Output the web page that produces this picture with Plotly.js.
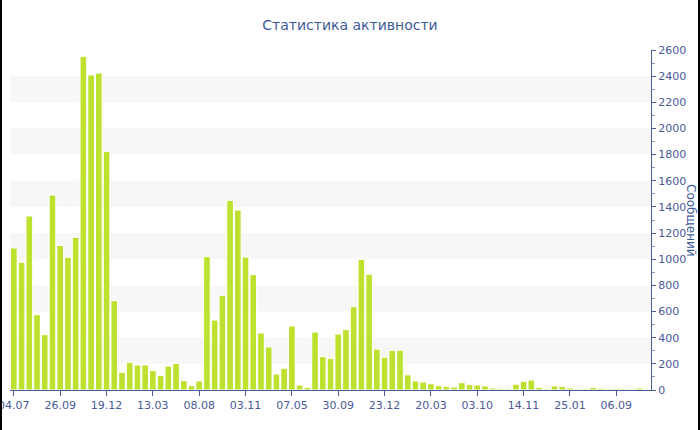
<!DOCTYPE html>
<html>
<head>
<meta charset="utf-8">
<script src="https://cdn.plot.ly/plotly-3.0.1.min.js"></script>
<style>
html,body{margin:0;padding:0;background:#fff;}
#wrap{position:relative;width:700px;height:430px;}
#chart{width:700px;height:430px;}
#frame{position:absolute;left:0;top:0;width:696px;height:430px;border-left:2px solid #000;border-right:2px solid #000;pointer-events:none;}
</style>
</head>
<body>
<div id="wrap"><div id="chart"></div><div id="frame"></div></div>
<script>
// Message counts per period
const messages = [
  1086, 976, 1331, 576, 423, 1491, 1106, 1015, 1168, 2552,
  2409, 2424, 1825, 683, 135, 212, 191, 191, 148, 112,
  183, 204, 71, 33, 69, 1020, 535, 724, 1450, 1376,
  1017, 882, 436, 329, 122, 166, 489, 38, 20, 443,
  255, 242, 428, 461, 637, 999, 885, 313, 250, 303,
  305, 116, 69, 61, 48, 33, 28, 23, 56, 41,
  38, 31, 15, 10, 8, 44, 67, 76, 20, 8,
  31, 28, 15, 8, 8, 20, 13, 8, 10, 8,
  8, 15, 6
];
// Positions (bar indices) of the labelled x ticks and their labels
const tickIndex = [0, 6, 12, 18, 24, 30, 36, 42, 48, 54, 60, 66, 72, 78];
const tickLabels = ['04.07', '26.09', '19.12', '13.03', '08.08', '03.11', '07.05',
                    '30.09', '23.12', '20.03', '03.10', '14.11', '25.01', '06.09'];
const yTicks = [0, 200, 400, 600, 800, 1000, 1200, 1400, 1600, 1800, 2000, 2200, 2400, 2600];

const idx = messages.map((_, i) => i);
const axisColor = '#4a5c9c';
const textColor = '#4a5a96';

// alternate bands between grid lines
const shapes = [];
for (let k = 1; k < yTicks.length - 1; k += 2) {
  shapes.push({type: 'rect', xref: 'paper', yref: 'y', x0: 0, x1: 1,
    y0: yTicks[k], y1: yTicks[k + 1], fillcolor: '#f7f7f7', line: {width: 0}, layer: 'below'});
}

const trace = {
  type: 'bar', x: idx, y: messages,
  marker: {color: '#bde12f', line: {color: '#ffffff', width: 1}},
  hoverinfo: 'y'
};

const layout = {
  width: 700, height: 430,
  margin: {l: 10, r: 49, t: 50, b: 40},
  paper_bgcolor: '#ffffff', plot_bgcolor: 'rgba(0,0,0,0)',
  font: {family: 'DejaVu Sans, Verdana, sans-serif', size: 11, color: textColor},
  title: {text: 'Статистика активности', x: 0.5, xanchor: 'center', y: 0.942, yanchor: 'middle',
          font: {family: 'DejaVu Sans, Verdana, sans-serif', size: 14, color: '#3e5a96'}},
  showlegend: false,
  bargap: 0.14,
  xaxis: {
    range: [-0.5, messages.length - 0.5], tickmode: 'array', tickvals: tickIndex, ticktext: tickLabels,
    showgrid: false, zeroline: false, showline: true, linecolor: axisColor, linewidth: 1,
    ticks: 'outside', ticklen: 5, tickcolor: axisColor, tickfont: {size: 11, color: textColor},
    ticklabeloverflow: 'allow', fixedrange: true
  },
  yaxis: {
    side: 'right', range: [0, 2600], tickmode: 'array', tickvals: yTicks,
    showgrid: false, zeroline: false, showline: true, linecolor: axisColor, linewidth: 1,
    ticks: 'outside', ticklen: 4, tickcolor: axisColor, tickfont: {size: 11, color: textColor},
    minor: {dtick: 100, ticks: 'outside', ticklen: 3, tickcolor: '#8a9ac0', showgrid: false},
    fixedrange: true
  },
  shapes: shapes,
  annotations: [{
    text: 'Сообщений', xref: 'paper', yref: 'paper', x: 1, y: 0.5, xanchor: 'left', yanchor: 'middle',
    xshift: 31, textangle: 90, showarrow: false,
    font: {family: 'DejaVu Sans, Verdana, sans-serif', size: 12, color: '#3e5a96'}
  }]
};

Plotly.newPlot('chart', [trace], layout, {displayModeBar: false, staticPlot: true});
</script>
</body>
</html>
